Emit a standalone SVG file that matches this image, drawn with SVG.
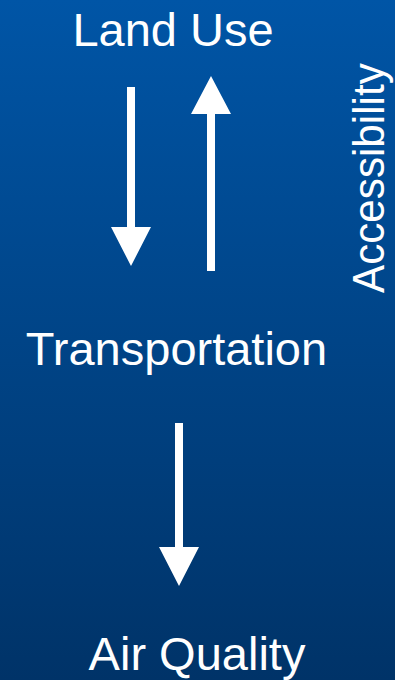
<svg xmlns="http://www.w3.org/2000/svg" width="395" height="680" viewBox="0 0 395 680">
  <defs>
    <linearGradient id="bg" x1="0" y1="0" x2="0" y2="1">
      <stop offset="0" stop-color="#0055a6"/>
      <stop offset="1" stop-color="#003368"/>
    </linearGradient>
    <style>
      .lbl { font-family: "Liberation Sans", Arial, sans-serif; fill: #ffffff; font-size: 47px; }
      .arr { fill: #ffffff; stroke: none; }
    </style>
  </defs>
  <rect x="0" y="0" width="395" height="680" fill="url(#bg)"/>
  <g id="connectors">
    <path class="arr" d="M127,87 H135 V227 H151 L131,266 L111,227 H127 Z"/>
    <path class="arr" d="M207,271 H215 V114 H231 L211,76 L191,114 H207 Z"/>
    <path class="arr" d="M175,423 H183 V547 H199 L179,586 L159,547 H175 Z"/>
  </g>
  <g id="land-use">
    <text class="lbl" x="173" y="45.5" text-anchor="middle">Land Use</text>
  </g>
  <g id="transportation">
    <text class="lbl" x="176.5" y="365" text-anchor="middle">Transportation</text>
  </g>
  <g id="air-quality">
    <text class="lbl" x="197" y="670" text-anchor="middle">Air Quality</text>
  </g>
  <g id="accessibility">
    <text class="lbl" style="font-size:40px" transform="translate(384,293) rotate(-90) scale(1.055,1.13)" x="0" y="0">Accessibility</text>
  </g>
</svg>
